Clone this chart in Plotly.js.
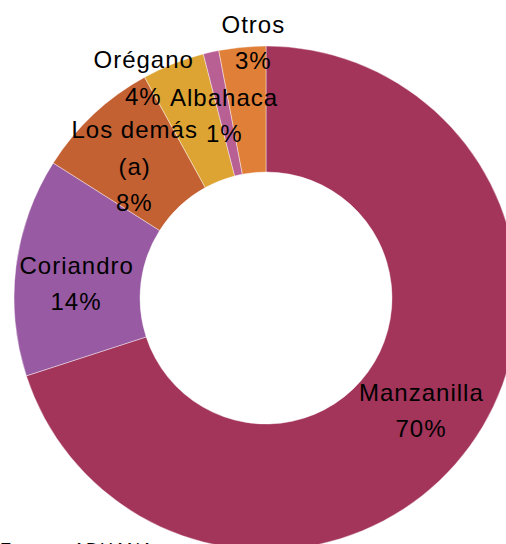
<!DOCTYPE html>
<html>
<head>
<meta charset="utf-8">
<script src="https://cdn.plot.ly/plotly-3.0.1.min.js"></script>
<style>
html,body{margin:0;padding:0;overflow:hidden;background:#fff;width:506px;height:544px;}
#chart{position:absolute;left:0;top:0;width:532px;height:596px;}
#chart text.annotation-text{letter-spacing:1px;}
</style>
</head>
<body>
<div id="chart"></div>
<script>
// Data
var labels = ["Manzanilla", "Coriandro", "Los demás<br>(a)", "Orégano", "Albahaca", "Otros"];
var values = [70, 14, 8, 4, 1, 3];
var colors = ["#A3345A", "#985AA3", "#C46133", "#DDA434", "#B85F94", "#E07F37"];
var sourceNote = "Fuente: ADUANA";

// Label placement (pixel centers of first line) - layout only
var labelPos = [
  [421, 392],
  [76, 265],
  [134, 130],
  [143, 60],
  [224, 97],
  [253, 25]
];
var lineGap = 36;
var W = 532, H = 596;

var annotations = [];
var total = values.reduce(function(a, b){ return a + b; }, 0);
labels.forEach(function(lab, i){
  var lines = lab.split("<br>");
  lines.push(Math.round(values[i] / total * 100) + "%");
  lines.forEach(function(t, j){
    annotations.push({
      text: t,
      x: labelPos[i][0] / W,
      y: 1 - (labelPos[i][1] + j * lineGap) / H,
      xref: "paper", yref: "paper",
      xanchor: "center", yanchor: "middle",
      showarrow: false,
      font: {family: "Liberation Sans, Arial, sans-serif", size: 24, color: "#000"}
    });
  });
});
annotations.push({
  text: sourceNote,
  x: 5 / W, y: 1 - 550 / H,
  xref: "paper", yref: "paper",
  xanchor: "left", yanchor: "middle",
  showarrow: false,
  font: {family: "Liberation Sans, Arial, sans-serif", size: 18, color: "#000"}
});

var trace = {
  type: "pie",
  labels: labels,
  values: values,
  hole: 0.5,
  sort: false,
  direction: "clockwise",
  rotation: 0,
  textinfo: "none",
  hoverinfo: "label+percent",
  marker: {colors: colors, line: {color: "rgba(255,255,255,0.7)", width: 0.6}},
  domain: {x: [14 / W, 518 / W], y: [46 / H, 550 / H]}
};

var layout = {
  width: W, height: H,
  margin: {l: 0, r: 0, t: 0, b: 0, pad: 0},
  showlegend: false,
  paper_bgcolor: "#fff",
  annotations: annotations
};

Plotly.newPlot("chart", [trace], layout, {displayModeBar: false, staticPlot: true});
</script>
</body>
</html>
